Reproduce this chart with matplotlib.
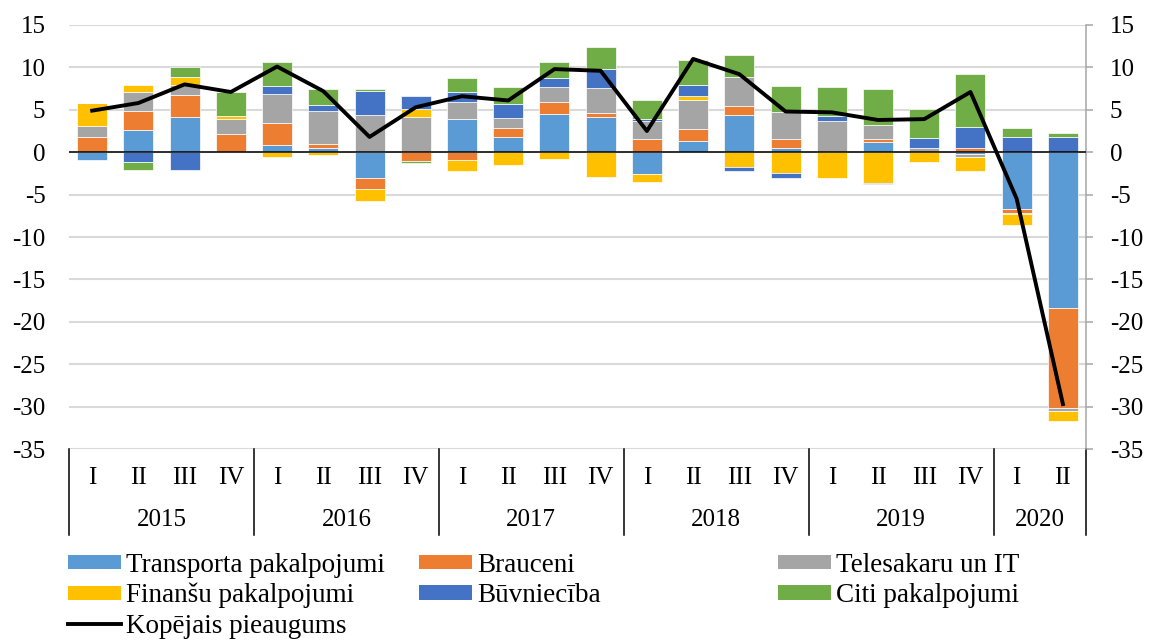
import numpy as np
import matplotlib
matplotlib.use('Agg')
import matplotlib.pyplot as plt
from matplotlib.patches import Patch
from matplotlib.lines import Line2D

plt.rcParams['font.family'] = 'Liberation Serif'
plt.rcParams['font.size'] = 18
plt.rcParams['axes.unicode_minus'] = False

years = ['2015', '2016', '2017', '2018', '2019', '2020']
quarters = ['I', 'II', 'III', 'IV'] * 5 + ['I', 'II']

# contributions to growth, percentage points
transport = [-0.9, 2.65, 4.1, 0.0, 0.8, 0.55, -3.05, 0.0, 3.9, 1.8, 4.55, 4.15,
             -2.55, 1.35, 4.35, 0.45, 0.0, 1.2, 0.0, -0.25, -6.75, -18.35]
brauc = [1.75, 2.25, 2.6, 2.2, 2.7, 0.45, -1.25, -1.05, -0.9, 1.05, 1.4, 0.5,
         1.5, 1.35, 1.05, 1.05, 0.0, 0.3, 0.0, 0.45, -0.4, -11.85]
telesak = [1.35, 2.25, 1.2, 1.75, 3.4, 3.8, 4.4, 4.2, 2.05, 1.2, 1.75, 2.9,
           2.2, 3.4, 3.45, 3.25, 3.7, 1.7, 0.55, -0.35, -0.15, -0.3]
finansu = [2.7, 0.75, 1.0, 0.3, -0.55, -0.35, -1.4, 0.85, -1.3, -1.5, -0.8, -2.9,
           -1.0, 0.55, -1.75, -2.4, -3.05, -3.6, -1.2, -1.65, -1.25, -1.25]
buvn = [0.0, -1.2, -2.1, 0.0, 0.85, 0.8, 2.85, 1.6, 1.2, 1.6, 1.0, 2.3,
        0.2, 1.25, -0.45, -0.65, 0.6, -0.1, 1.15, 2.55, 1.75, 1.85]
citi = [0.0, -0.85, 1.15, 2.85, 2.85, 1.8, 0.25, -0.2, 1.55, 2.05, 1.9, 2.6,
        2.25, 2.95, 2.6, 3.1, 3.4, 4.3, 3.4, 6.2, 1.15, 0.4]
total = [4.9, 5.8, 8.0, 7.1, 10.1, 7.2, 1.8, 5.3, 6.6, 6.1, 9.8, 9.6,
         2.5, 11.0, 9.2, 4.8, 4.7, 3.8, 3.9, 7.1, -5.5, -29.7]

series = [
    ('Transporta pakalpojumi', transport, '#5B9BD5'),
    ('Brauceni', brauc, '#ED7D31'),
    ('Telesakaru un IT', telesak, '#A5A5A5'),
    ('Finanšu pakalpojumi', finansu, '#FFC000'),
    ('Būvniecība', buvn, '#4472C4'),
    ('Citi pakalpojumi', citi, '#70AD47'),
]

fig = plt.figure(figsize=(11.49, 6.41), dpi=100)
ax = fig.add_axes([0.0601, 0.2995, 0.8851, 0.6615])

x = np.arange(len(total))
pos = np.zeros(len(x))
neg = np.zeros(len(x))
for name, vals, col in series:
    v = np.array(vals)
    bottom = np.where(v >= 0, pos, neg)
    ax.bar(x, v, bottom=bottom, width=0.65, color=col,
           edgecolor='white', linewidth=0.5, zorder=2)
    pos = pos + np.clip(v, 0, None)
    neg = neg + np.clip(v, None, 0)

ax.plot(x, total, color='black', linewidth=2.8, zorder=4)
ax.axhline(0, color='black', linewidth=1.1, zorder=3)

ax.set_xlim(-0.5, len(x) - 0.5)
ax.set_ylim(-35, 15)
ax.set_yticks(range(-35, 16, 5))
ax.yaxis.grid(True, color='#D9D9D9', linewidth=1.5, zorder=0)
ax.set_axisbelow(True)
ax.tick_params(axis='y', which='both', left=False, right=True,
               labelleft=True, labelright=True, length=5,
               direction='out', color='#A6A6A6', width=1.1, pad=12,
               labelsize=18)
ax.set_xticks([])
for s in ['top', 'left', 'bottom']:
    ax.spines[s].set_visible(False)
ax.spines['right'].set_color('#A6A6A6')
ax.spines['right'].set_linewidth(1.1)

# two-level category axis: quarters and years
trans = ax.get_xaxis_transform()
for i, q in enumerate(quarters):
    ax.text(i, -0.068, q, transform=trans, ha='center', va='center', fontsize=18)
bounds = [-0.5, 3.5, 7.5, 11.5, 15.5, 19.5, 21.5]
for b in bounds:
    ax.plot([b, b], [0, -0.203], transform=trans, color='black',
            linewidth=1.1, clip_on=False)
for k, yr in enumerate(years):
    ax.text((bounds[k] + bounds[k + 1]) / 2, -0.167, yr, transform=trans,
            ha='center', va='center', fontsize=18)

handles = {name: Patch(facecolor=col) for name, vals, col in series}
line_h = Line2D([], [], color='black', linewidth=2.8)
columns = [
    ([handles['Transporta pakalpojumi'], handles['Finanšu pakalpojumi'], line_h],
     ['Transporta pakalpojumi', 'Finanšu pakalpojumi', 'Kopējais pieaugums'], 0.059),
    ([handles['Brauceni'], handles['Būvniecība']],
     ['Brauceni', 'Būvniecība'], 0.365),
    ([handles['Telesakaru un IT'], handles['Citi pakalpojumi']],
     ['Telesakaru un IT', 'Citi pakalpojumi'], 0.677),
]
for hs, labs, xpos in columns:
    fig.legend(hs, labs, loc='upper left', bbox_to_anchor=(xpos, 0.138),
               frameon=False, borderpad=0, borderaxespad=0,
               handlelength=1.95, handleheight=0.45, handletextpad=0.2,
               labelspacing=0.2, fontsize=19.5)

fig.savefig('out.png', dpi=100)
